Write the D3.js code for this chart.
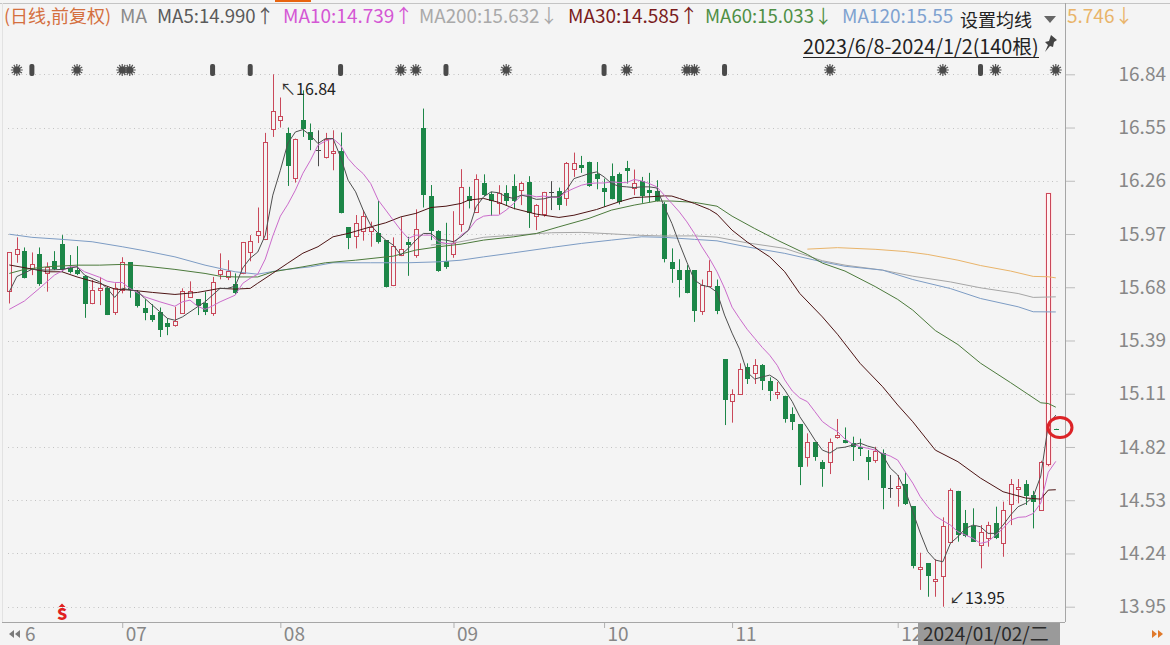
<!DOCTYPE html>
<html><head><meta charset="utf-8">
<script src="https://cdn.jsdelivr.net/npm/d3@7"></script>
<style>
html,body{margin:0;padding:0;background:#f4f4f4;overflow:hidden}
svg{display:block}
text{font-family:"Noto Sans CJK SC","Noto Sans",sans-serif}
</style></head><body>
<svg id="c" width="1170" height="645"></svg>
<script>
const opens=[15.660,15.862,15.879,15.783,15.864,15.760,15.824,15.918,15.786,15.777,
15.746,15.596,15.667,15.679,15.547,15.669,15.820,15.656,15.571,15.531,
15.547,15.488,15.475,15.547,15.634,15.618,15.596,15.542,15.752,15.737,
15.701,15.759,15.876,15.963,15.949,16.545,16.589,16.524,16.277,16.594,
16.525,16.431,16.391,16.415,16.426,16.009,15.965,15.989,15.985,15.976,
15.940,15.694,15.857,15.929,15.859,16.547,16.179,15.989,15.828,15.864,
16.027,16.179,16.096,16.250,16.188,16.142,16.197,16.236,16.213,16.254,
16.068,16.081,16.202,16.204,16.166,16.325,16.346,16.366,16.299,16.225,
16.287,16.297,16.334,16.227,16.261,16.214,16.207,16.135,15.819,15.777,
15.777,15.777,15.556,15.687,15.690,15.294,15.063,15.105,15.250,15.219,
15.261,15.173,15.103,15.095,14.996,14.942,14.761,14.842,14.735,14.731,
14.867,14.856,14.840,14.815,14.762,14.742,14.782,14.592,14.592,14.614,
14.495,14.153,14.186,14.091,14.113,14.303,14.579,14.403,14.388,14.281,
14.326,14.403,14.294,14.506,14.592,14.616,14.554,14.475,14.722,14.916];
const highs=[15.873,15.955,15.900,15.873,15.900,15.819,15.880,15.967,15.859,15.907,
15.746,15.723,15.740,15.686,15.706,15.847,15.820,15.669,15.618,15.592,
15.574,15.516,15.578,15.678,15.716,15.618,15.660,15.740,15.868,15.831,
15.759,15.930,15.967,16.117,16.522,16.840,16.714,16.551,16.491,16.753,
16.573,16.536,16.522,16.536,16.524,16.009,16.076,16.103,16.040,16.153,
15.940,15.955,16.064,15.958,16.107,16.654,16.239,15.994,16.034,16.097,
16.325,16.229,16.297,16.297,16.202,16.238,16.238,16.297,16.256,16.287,
16.135,16.202,16.260,16.225,16.364,16.415,16.397,16.366,16.364,16.274,
16.356,16.307,16.370,16.323,16.283,16.305,16.265,16.146,15.895,15.836,
15.804,15.777,15.726,15.831,15.726,15.294,15.130,15.271,15.271,15.294,
15.267,15.195,15.170,15.095,15.032,14.942,14.891,14.842,14.746,14.863,
14.969,14.923,14.873,14.862,14.800,14.818,14.804,14.665,14.665,14.682,
14.495,14.243,14.186,14.207,14.435,14.592,14.579,14.475,14.484,14.393,
14.411,14.493,14.520,14.643,14.643,14.637,14.579,14.742,16.193,14.916];
const lows=[15.596,15.817,15.732,15.750,15.692,15.660,15.777,15.768,15.759,15.750,
15.518,15.592,15.587,15.533,15.534,15.651,15.627,15.574,15.505,15.496,
15.414,15.424,15.470,15.542,15.629,15.533,15.533,15.529,15.727,15.723,
15.647,15.755,15.825,15.924,15.940,16.500,16.551,16.234,16.252,16.500,
16.428,16.341,16.383,16.319,16.085,15.891,15.895,15.937,15.904,15.921,
15.684,15.690,15.853,15.746,15.844,16.117,15.940,15.768,15.784,15.844,
15.985,16.112,16.090,16.180,16.072,16.081,16.126,16.107,16.130,16.006,
15.994,16.067,16.103,16.103,16.126,16.283,16.305,16.229,16.216,16.121,
16.161,16.134,16.247,16.184,16.142,16.144,16.150,15.819,15.708,15.629,
15.651,15.496,15.534,15.684,15.538,14.936,14.949,15.101,15.159,15.159,
15.126,15.067,15.077,14.949,14.909,14.610,14.710,14.742,14.601,14.670,
14.862,14.837,14.741,14.768,14.637,14.731,14.479,14.541,14.493,14.502,
14.158,14.041,14.004,14.004,13.950,14.294,14.303,14.327,14.303,14.158,
14.276,14.317,14.221,14.393,14.511,14.502,14.375,14.471,14.713,14.910];
const closes=[15.873,15.890,15.735,15.808,15.701,15.792,15.781,15.777,15.764,15.754,
15.596,15.667,15.679,15.534,15.678,15.820,15.669,15.581,15.545,15.505,
15.447,15.464,15.499,15.664,15.664,15.580,15.547,15.711,15.776,15.770,
15.651,15.927,15.936,15.987,16.475,16.643,16.611,16.343,16.491,16.543,
16.484,16.431,16.487,16.426,16.088,15.949,16.034,16.069,16.009,15.925,
15.686,15.906,15.891,15.915,15.998,16.186,15.987,15.772,15.795,15.922,
16.227,16.152,16.274,16.184,16.148,16.197,16.152,16.152,16.249,16.085,
16.128,16.202,16.202,16.130,16.356,16.356,16.332,16.234,16.272,16.201,
16.162,16.146,16.319,16.252,16.180,16.198,16.153,15.835,15.779,15.723,
15.654,15.556,15.697,15.770,15.556,15.072,15.103,15.239,15.186,15.261,
15.176,15.121,15.114,14.969,14.953,14.710,14.842,14.759,14.697,14.842,
14.880,14.840,14.818,14.802,14.737,14.793,14.590,14.592,14.603,14.504,
14.172,14.164,14.113,14.102,14.386,14.583,14.339,14.330,14.303,14.354,
14.395,14.321,14.473,14.614,14.601,14.552,14.517,14.735,16.193,14.910];

const ma5Bars=[0,1,3,5,7,9,10,12,13,14,15,16,17,18,19,20,21,22,23,25,26,28,29,30,31,32,33,34,35,36,37,38,39,40,41,42,43,44,45,46,47,48,49,50,51,52,53,54,55,56,57,58,59,60,61,62,63,64,65,66,67,68,69,70,71,72,73,74,75,76,77,78,79,80,81,82,83,84,85,86,87,88,89,90,91,92,93,94,95,96,97,98,99,100,101,102,103,104,105,106,107,108,109,110,111,112,113,114,115,116,117,118,119,120,121,122,123,124,125,126,127,128,129,130,131,132,133,134,135,136,137,138,139];
const ma5=[15.660,15.742,15.781,15.777,15.781,15.795,15.750,15.713,15.678,15.629,15.679,15.669,15.664,15.623,15.587,15.551,15.515,15.505,15.523,15.578,15.605,15.678,15.678,15.690,15.788,15.842,15.875,15.967,16.184,16.319,16.466,16.527,16.540,16.509,16.464,16.491,16.491,16.391,16.265,16.202,16.103,16.021,15.976,15.940,15.913,15.859,15.895,15.940,15.976,15.976,15.944,15.940,15.931,15.958,15.994,16.121,16.175,16.202,16.197,16.175,16.166,16.184,16.175,16.161,16.164,16.175,16.175,16.211,16.274,16.287,16.301,16.310,16.283,16.247,16.232,16.229,16.225,16.229,16.229,16.223,16.121,16.031,15.922,15.820,15.723,15.695,15.686,15.657,15.533,15.435,15.348,15.223,15.186,15.197,15.207,15.181,15.126,15.063,14.981,14.920,14.855,14.800,14.784,14.811,14.816,14.827,14.838,14.822,14.811,14.773,14.703,14.665,14.583,14.466,14.350,14.248,14.203,14.194,14.294,14.330,14.375,14.393,14.384,14.348,14.348,14.393,14.448,14.493,14.511,14.547,14.659,14.936,14.990];
const ma10Bars=[0,2,4,6,8,9,10,12,13,14,15,16,18,20,22,23,24,25,26,27,28,30,31,32,33,34,35,36,37,38,39,40,41,42,43,44,45,46,47,48,49,50,51,52,53,54,55,56,57,58,59,60,61,62,63,64,65,66,67,68,69,70,71,72,73,74,75,76,77,78,79,80,81,82,83,84,85,86,87,88,89,90,91,92,93,94,95,96,97,98,99,100,101,102,103,104,105,106,107,108,109,110,111,112,113,114,115,116,117,118,119,120,121,122,123,124,125,126,127,128,129,130,131,132,133,134,135,136,137,138,139];
const ma10=[15.564,15.609,15.678,15.750,15.795,15.795,15.768,15.738,15.717,15.710,15.710,15.678,15.632,15.605,15.581,15.605,15.614,15.581,15.564,15.583,15.605,15.641,15.705,15.733,15.755,15.837,15.962,16.070,16.135,16.211,16.303,16.373,16.455,16.478,16.491,16.455,16.383,16.337,16.301,16.247,16.157,16.103,16.048,15.994,15.949,15.967,15.967,15.967,15.931,15.922,15.918,15.967,15.994,16.048,16.070,16.075,16.075,16.103,16.139,16.184,16.184,16.175,16.179,16.172,16.172,16.202,16.221,16.238,16.247,16.250,16.250,16.256,16.252,16.252,16.269,16.261,16.247,16.229,16.184,16.139,16.093,16.039,15.976,15.903,15.840,15.768,15.679,15.576,15.514,15.456,15.407,15.358,15.315,15.260,15.181,15.121,15.083,15.063,15.009,14.955,14.925,14.901,14.860,14.833,14.819,14.810,14.800,14.782,14.768,14.746,14.682,14.621,14.547,14.493,14.442,14.417,14.393,14.357,14.339,14.321,14.294,14.303,14.339,14.375,14.420,14.435,14.438,14.456,14.512,14.680,14.739];
const ma30Bars=[0,3,5,7,9,12,14,16,19,22,25,28,30,32,33,35,37,39,41,43,45,48,50,52,54,56,58,60,61,63,65,67,70,73,75,78,81,83,85,87,88,89,91,93,94,96,98,101,103,105,108,110,113,116,118,120,123,126,129,132,135,137,138,139];
const ma30=[15.805,15.783,15.768,15.768,15.740,15.705,15.674,15.669,15.656,15.645,15.656,15.678,15.674,15.678,15.706,15.760,15.815,15.869,15.904,15.958,15.976,16.012,16.034,16.066,16.085,16.117,16.124,16.139,16.157,16.166,16.145,16.112,16.081,16.063,16.075,16.106,16.148,16.171,16.175,16.180,16.179,16.166,16.139,16.106,16.081,15.994,15.930,15.849,15.768,15.650,15.523,15.429,15.271,15.144,15.045,14.954,14.800,14.737,14.648,14.574,14.540,14.534,14.583,14.585];
const ma60Bars=[0,2,5,9,12,15,18,22,26,28,30,33,35,39,42,46,51,54,57,60,63,67,70,73,77,80,83,86,88,91,94,96,99,102,106,108,111,115,118,120,123,126,129,133,137,138,139];
const ma60=[15.759,15.781,15.795,15.804,15.804,15.808,15.799,15.781,15.759,15.744,15.740,15.740,15.768,15.795,15.817,15.831,15.853,15.886,15.904,15.918,15.940,15.958,15.976,16.012,16.058,16.103,16.130,16.152,16.152,16.145,16.124,16.070,16.003,15.940,15.862,15.815,15.772,15.688,15.618,15.560,15.449,15.373,15.272,15.166,15.057,15.053,15.033];
const ma120Bars=[0,3,7,11,15,18,22,26,30,33,36,40,43,48,53,57,60,63,67,72,76,80,84,87,91,94,98,103,108,111,116,120,125,129,134,136,139];
const ma120=[15.972,15.955,15.944,15.931,15.904,15.882,15.849,15.804,15.768,15.755,15.777,15.795,15.817,15.817,15.817,15.822,15.831,15.849,15.871,15.900,15.922,15.940,15.958,15.955,15.944,15.936,15.903,15.868,15.822,15.798,15.777,15.726,15.677,15.623,15.578,15.551,15.550];
const ma200Bars=[56,59,63,67,72,76,79,83,87,91,94,98,103,108,111,116,120,125,129,134,136,139];
const ma200=[15.913,15.924,15.955,15.967,15.980,15.982,15.976,15.967,15.962,15.963,15.956,15.925,15.895,15.828,15.804,15.777,15.744,15.713,15.681,15.650,15.629,15.632];
const ma250Bars=[106,110,115,119,122,126,129,133,136,138,139];
const ma250=[15.891,15.899,15.890,15.878,15.862,15.831,15.802,15.772,15.743,15.741,15.735];

const priceTicks=[16.84,16.551,16.262,15.973,15.684,15.395,15.106,14.817,14.528,14.239,13.95];
const priceLabels=["16.84","16.55","16.26","15.97","15.68","15.39","15.11","14.82","14.53","14.24","13.95"];
const monthBars=[15,36,59,79,96,118];
const monthLabels=["07","08","09","10","11","12"];
const starBars=[1,9,15,16,52,54,66,82,90,91,109,124,131,139];
const capsuleBars=[3,27,32,44,58,79,95,129];
const legendItems=[
 {t:"(日线,前复权)",c:"#d4703f",x:4,s:18},{t:"MA",c:"#8a8a8a",x:120,s:19},
 {t:"MA5:14.990↑",c:"#5a5a5a",x:157,s:18.6},{t:"MA10:14.739↑",c:"#d457d4",x:283,s:19},
 {t:"MA200:15.632↓",c:"#a9a9a9",x:419,s:18.8},{t:"MA30:14.585↑",c:"#7a1c1c",x:568,s:19},
 {t:"MA60:15.033↓",c:"#4f8f45",x:705,s:18.6},{t:"MA120:15.55",c:"#7fa2d0",x:842,s:19},
 {t:"5.746↓",c:"#e9b46a",x:1067,s:19}];

const svg=d3.select("#c");
const x=d3.scaleLinear().domain([0,139]).range([9.3,1055.8]);
const y=d3.scaleLinear().domain([13.95,16.84]).range([606.7,74.3]);
const RED="#c9485a",GREEN="#1c8647",DOJI="#4a4a4a",BG="#f4f4f4";

svg.append("rect").attr("width",1170).attr("height",645).attr("fill",BG);
svg.append("rect").attr("x",275).attr("y",0).attr("width",36).attr("height",2).attr("fill",  "#e8640f");
svg.append("line").attr("x1",0).attr("x2",1170).attr("y1",3.5).attr("y2",3.5).attr("stroke","#c4c4c4");
svg.append("line").attr("x1",2.5).attr("x2",2.5).attr("y1",3).attr("y2",622).attr("stroke","#e2e2e2");

// dotted grid
svg.append("g").selectAll("line").data(priceTicks).join("line")
 .attr("x1",8).attr("x2",1060).attr("y1",d=>Math.round(y(d))+.5).attr("y2",d=>Math.round(y(d))+.5)
 .attr("stroke","#c2c2c2").attr("stroke-dasharray","1,3.5");

// selected-bar halo
const last=138;
svg.append("rect").attr("x",Math.round(x(last))-3).attr("width",7)
 .attr("y",y(highs[last])-1).attr("height",y(lows[last])-y(highs[last])+2).attr("fill","#ffe3e3");

// candles
const bars=d3.range(opens.length).map(i=>({i,o:opens[i],h:highs[i],l:lows[i],c:closes[i]}));
const color=d=>d.c>d.o?RED:d.c<d.o?GREEN:DOJI;
const gc=svg.append("g");
gc.selectAll("line").data(bars).join("line")
 .attr("x1",d=>Math.round(x(d.i))+.5).attr("x2",d=>Math.round(x(d.i))+.5)
 .attr("y1",d=>y(d.h)).attr("y2",d=>y(d.l)).attr("stroke",color).attr("stroke-width",1);
gc.selectAll("rect").data(bars).join("rect")
 .attr("x",d=>Math.round(x(d.i))-(d.c>d.o?1.5:2)).attr("width",d=>d.c>d.o?4:5)
 .attr("y",d=>Math.round(y(Math.max(d.o,d.c)))+(d.c>d.o?.5:0))
 .attr("height",d=>Math.max(Math.round(Math.abs(y(d.o)-y(d.c))),1))
 .attr("fill",d=>d.c>d.o?(d.i===last?"#fff4f4":BG):color(d))
 .attr("stroke",d=>d.c>d.o?RED:"none").attr("stroke-width",1);

// moving averages
const line=d3.line().x(d=>x(d[0])).y(d=>y(d[1]));
[[ma250Bars,ma250,"#e9b46a"],[ma200Bars,ma200,"#a6a6a6"],[ma120Bars,ma120,"#7d9cc4"],
 [ma60Bars,ma60,"#4c7a3c"],[ma30Bars,ma30,"#4d1414"],[ma10Bars,ma10,"#cb6bcb"],[ma5Bars,ma5,"#4e4e4e"]]
.forEach(([b,v,c])=>svg.append("path").attr("d",line(b.map((k,j)=>[k,v[j]])))
  .attr("fill","none").attr("stroke",c).attr("stroke-width",1));

// signal markers
const gm=svg.append("g");
const star=d3.symbol().type(d3.symbolAsterisk).size(100);
[0,30].forEach(r=>gm.append("g").selectAll("path").data(starBars).join("path")
 .attr("transform",d=>`translate(${x(d)},70) rotate(${r})`).attr("d",star())
 .attr("stroke","#555").attr("stroke-width",1.2).attr("fill","none"));
gm.append("g").selectAll("circle").data(starBars).join("circle")
 .attr("cx",d=>x(d)).attr("cy",70).attr("r",3.5).attr("fill","#4a4a4a");
gm.append("g").selectAll("rect").data(capsuleBars).join("rect")
 .attr("x",d=>x(d)-2.5).attr("y",64).attr("width",5).attr("height",12).attr("rx",2).attr("fill","#4a4a4a");

// axes
const yAxis=d3.axisRight(y).tickValues(priceTicks).tickSize(10).tickPadding(43)
 .tickFormat((d,i)=>priceLabels[i]);
const ga=svg.append("g").attr("transform","translate(1065,0)").call(yAxis);
ga.select(".domain").remove();
ga.selectAll("line").attr("stroke","#bdbdbd");
ga.selectAll("text").attr("font-size",19).attr("fill","#878787").attr("text-anchor","end").attr("x",101);
svg.append("line").attr("x1",1065.5).attr("x2",1065.5).attr("y1",3).attr("y2",622).attr("stroke","#a6a6a6");

const xAxis=d3.axisBottom(x).tickValues(monthBars).tickSize(6).tickPadding(2).tickFormat((d,i)=>monthLabels[i]);
const gx=svg.append("g").attr("transform","translate(0,622)").call(xAxis);
gx.select(".domain").remove();
gx.selectAll("line").attr("stroke","#b0b0b0");
gx.selectAll("text").attr("font-size",19).attr("fill","#878787").attr("text-anchor","start").attr("x",3).attr("y",0.9).attr("dy","0.95em");
svg.append("line").attr("x1",2).attr("x2",1065).attr("y1",622.5).attr("y2",622.5).attr("stroke","#a6a6a6");
svg.append("text").text("6").attr("x",25).attr("y",641).attr("font-size",19).attr("fill","#878787");
svg.append("path").attr("d","M14 630 l-5 4 l5 4z M20 630 l-5 4 l5 4z").attr("fill","#7a7a7a");
svg.append("path").attr("d","M1152 630 l5 4 l-5 4z M1158 630 l5 4 l-5 4z").attr("fill","#e07a2c");

// crosshair date
svg.append("rect").attr("x",918).attr("y",623).attr("width",142).attr("height",22).attr("fill","#9a9a9a");
svg.append("text").text("2024/01/02/二").attr("x",923).attr("y",641).attr("font-size",19).attr("fill","#2a2a2a");

// legend
svg.append("g").selectAll("text").data(legendItems).join("text")
 .text(d=>d.t).attr("x",d=>d.x).attr("y",23).attr("font-size",d=>d.s).attr("fill",d=>d.c);
svg.append("rect").attr("x",954).attr("y",5).attr("width",110).attr("height",28).attr("fill",BG);
svg.append("text").text("设置均线").attr("x",960).attr("y",27).attr("font-size",18).attr("fill","#222");
svg.append("path").attr("d","M1044 16 h12 l-6 7z").attr("fill","#666");
svg.append("text").text("2023/6/8-2024/1/2(140根)").attr("x",803).attr("y",54).attr("font-size",19.8).attr("fill","#222");
svg.append("line").attr("x1",803).attr("x2",1039).attr("y1",57.5).attr("y2",57.5).attr("stroke","#222");
svg.append("path").attr("d","M1051 35 l6 5 l-3 2 l-1 5 l-3 -1 l-5 6 l3 -7 l-3 -3 l4 -1z").attr("fill","#444");

// extreme labels
svg.append("text").text("↖").attr("x",280).attr("y",95).attr("font-size",16).attr("fill","#333");
svg.append("text").text("16.84").attr("x",296).attr("y",95).attr("font-size",16).attr("fill","#222");
svg.append("text").text("↙").attr("x",949).attr("y",604).attr("font-size",16).attr("fill","#333");
svg.append("text").text("13.95").attr("x",965).attr("y",604).attr("font-size",16).attr("fill","#222");

// S mark
svg.append("path").attr("d","M62 603.5 l3.5 3.5 h-7z").attr("fill","#e02020");
svg.append("text").text("S").attr("x",57).attr("y",620).attr("font-size",16).attr("font-weight",900).attr("fill","#e02020");

// red circle
svg.append("ellipse").attr("cx",1060).attr("cy",427.5).attr("rx",12).attr("ry",10)
 .attr("fill","none").attr("stroke","#dc2327").attr("stroke-width",3);
</script></body></html>
